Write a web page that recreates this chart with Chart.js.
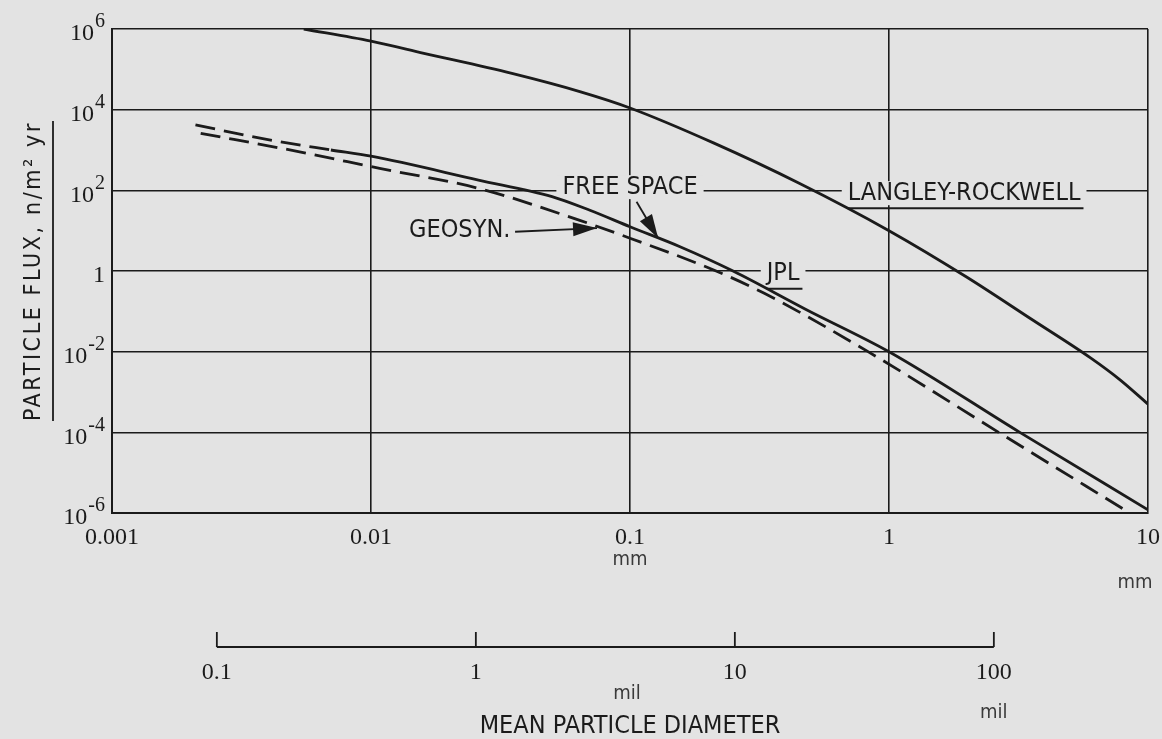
<!DOCTYPE html>
<html>
<head>
<meta charset="utf-8">
<title>Particle flux vs mean particle diameter</title>
<script src="https://cdn.jsdelivr.net/npm/chart.js@4.4.1/dist/chart.umd.min.js"></script>
<style>
  html, body { margin: 0; padding: 0; background: #e3e3e3; }
</style>
</head>
<body>
<canvas id="chart-flux" width="1162" height="739"></canvas>
<script>
// mean particle diameter (mm) -> particle flux (n / m^2 yr)
const lrDiameter = [0.0055, 0.01, 0.016, 0.035, 0.064, 0.1, 0.21, 0.45, 1, 2, 3.6, 6, 7.8, 10];
const lrFlux = [1e6, 5e5, 2.5e5, 7.9e4, 2.8e4, 1.1e4, 1.5e3, 150, 10, 0.7, 0.06, 7e-3, 2e-3, 5e-4];

const freeSpaceDiameter = [0.0021, 0.004, 0.007, 0.01, 0.026, 0.05, 0.07, 0.1, 0.156, 0.25, 0.48, 1, 3.2, 10];
const freeSpaceFlux = [4.2e3, 1.8e3, 1.0e3, 700, 180, 70, 32, 12.5, 4, 1, 0.11, 0.01, 1e-4, 1.2e-6];
const FREE_SPACE_DASHED_UNTIL = 0.007;

const geosynDiameter = [0.0022, 0.0053, 0.0108, 0.026, 0.064, 0.1, 0.215, 0.33, 0.83, 2.65, 8.5];
const geosynFlux = [2.6e3, 900, 350, 112, 18, 6.5, 1.0, 0.28, 1e-2, 1e-4, 1e-6];

const xTicks = [0.001, 0.01, 0.1, 1, 10];
const xTickLabels = ["0.001", "0.01", "0.1", "1", "10"];
const yTicks = [1e-6, 1e-4, 1e-2, 1, 1e2, 1e4, 1e6];
const yTickExponents = ["-6", "-4", "-2", "", "2", "4", "6"];
const milTicks = [0.1, 1, 10, 100];
const milTickLabels = ["0.1", "1", "10", "100"];
const MM_PER_MIL = 0.0254;

const Y_TITLE = "PARTICLE FLUX, n/m² yr";
const INK = "#1b1b1b";
const PAPER = "#e3e3e3";
const SERIF = '"Liberation Serif", "DejaVu Serif", serif';
const NARROW = '"DejaVu Sans Condensed", "Liberation Sans Narrow", "DejaVu Sans", sans-serif';
const DASH = [20, 9];

const notes = [
  { text: "FREE SPACE", x: 0.1, y: 120 },
  { text: "GEOSYN.", x: 0.022, y: 10 },
  { text: "JPL", x: 0.39, y: 0.85, underline: true },
  { text: "LANGLEY-ROCKWELL", x: 1.95, y: 85, underline: true },
];
const arrows = [
  { from: [0.106, 52], to: [0.1285, 6.5] },
  { from: [0.036, 9.4], to: [0.0746, 11.6] },
];
// unit names: under the last tick (value) or centred on the scale (value null)
const units = [
  { scale: "x", value: 10, text: "mm", dx: -13, dy: 70 },
  { scale: "mil", value: 100, text: "mil", dx: 0, dy: 66 },
  { scale: "mil", value: null, text: "mil", dx: -3, dy: 47 },
];

const toPoints = (xs, ys) => xs.map((d, i) => ({ x: d, y: ys[i] }));

const paperPlugin = {
  id: "paper",
  beforeDraw(chart) {
    const ctx = chart.ctx;
    ctx.save();
    ctx.fillStyle = PAPER;
    ctx.fillRect(0, 0, chart.width, chart.height);
    ctx.restore();
  },
};

const notesPlugin = {
  id: "notes",
  beforeDatasetsDraw(chart) {
    const { ctx, scales: { x, y } } = chart;
    ctx.save();
    ctx.font = "25px " + NARROW;
    ctx.textAlign = "center";
    ctx.textBaseline = "middle";
    notes.forEach((n) => {
      const px = x.getPixelForValue(n.x);
      const py = y.getPixelForValue(n.y);
      const w = ctx.measureText(n.text).width;
      ctx.fillStyle = PAPER;
      ctx.fillRect(px - w / 2 - 6, py - 12, w + 12, 24);
      ctx.fillStyle = INK;
      ctx.fillText(n.text, px, py);
      if (n.underline) {
        ctx.strokeStyle = INK;
        ctx.lineWidth = 2;
        ctx.beginPath();
        ctx.moveTo(px - w / 2, py + 15);
        ctx.lineTo(px + w / 2 + 3, py + 15);
        ctx.stroke();
      }
    });
    ctx.restore();
  },
  afterDatasetsDraw(chart) {
    const { ctx, scales: { x, y } } = chart;
    ctx.save();
    ctx.strokeStyle = INK;
    ctx.fillStyle = INK;
    ctx.lineWidth = 1.8;
    arrows.forEach((a) => {
      const x0 = x.getPixelForValue(a.from[0]), y0 = y.getPixelForValue(a.from[1]);
      const x1 = x.getPixelForValue(a.to[0]), y1 = y.getPixelForValue(a.to[1]);
      const ang = Math.atan2(y1 - y0, x1 - x0);
      const c = Math.cos(ang), s = Math.sin(ang);
      ctx.beginPath();
      ctx.moveTo(x0, y0);
      ctx.lineTo(x1, y1);
      ctx.stroke();
      ctx.beginPath();
      ctx.moveTo(x1, y1);
      ctx.lineTo(x1 - 24 * c + 7 * s, y1 - 24 * s - 7 * c);
      ctx.lineTo(x1 - 24 * c - 7 * s, y1 - 24 * s + 7 * c);
      ctx.closePath();
      ctx.fill();
    });
    ctx.restore();
  },
};

const extrasPlugin = {
  id: "extras",
  afterDraw(chart) {
    const ctx = chart.ctx;
    const mil = chart.scales.mil;
    const ys = chart.scales.y;
    ctx.save();
    ctx.strokeStyle = INK;
    ctx.fillStyle = INK;
    ctx.lineWidth = 1.8;

    // y tick labels: 10 with a full-size raised exponent
    yTicks.forEach((v, i) => {
      const py = ys.getPixelForValue(v);
      const exp = yTickExponents[i];
      const base = exp ? "10" : "1";
      ctx.font = "24px " + SERIF;
      const wb = ctx.measureText(base).width;
      ctx.font = "20px " + SERIF;
      const we = exp ? ctx.measureText(exp).width + 1 : 0;
      const x0 = ys.right - 7 - wb - we;
      ctx.textAlign = "left";
      ctx.textBaseline = "middle";
      ctx.font = "24px " + SERIF;
      ctx.fillText(base, x0, py + 5);
      if (exp) {
        ctx.font = "20px " + SERIF;
        ctx.fillText(exp, x0 + wb + 1, py - 7);
      }
    });

    // rotated y title, spaced out, with its underline
    const mid = (ys.top + ys.bottom) / 2;
    ctx.font = "23px " + NARROW;
    if ("letterSpacing" in ctx) ctx.letterSpacing = "2.6px";
    const w = ctx.measureText(Y_TITLE).width;
    ctx.save();
    ctx.translate(ys.left + 40, mid);
    ctx.rotate(-Math.PI / 2);
    ctx.textAlign = "center";
    ctx.textBaseline = "alphabetic";
    ctx.fillText(Y_TITLE, 0, 0);
    ctx.restore();
    if ("letterSpacing" in ctx) ctx.letterSpacing = "0px";
    ctx.beginPath();
    ctx.moveTo(ys.left + 53, mid - w / 2);
    ctx.lineTo(ys.left + 53, mid + w / 2);
    ctx.stroke();

    // mil scale: a bare line with upward ticks, only across its labelled span
    const first = mil.getPixelForValue(milTicks[0]);
    const last = mil.getPixelForValue(milTicks[milTicks.length - 1]);
    ctx.beginPath();
    ctx.moveTo(first, mil.top);
    ctx.lineTo(last, mil.top);
    milTicks.forEach((v) => {
      const px = mil.getPixelForValue(v);
      ctx.moveTo(px, mil.top);
      ctx.lineTo(px, mil.top - 15);
    });
    ctx.stroke();

    // unit names
    ctx.fillStyle = "#3a3a3a";
    ctx.font = "20px " + NARROW;
    ctx.textAlign = "center";
    ctx.textBaseline = "middle";
    units.forEach((u) => {
      const s = chart.scales[u.scale];
      const px = u.value === null ? (s.left + s.right) / 2 : s.getPixelForValue(u.value);
      ctx.fillText(u.text, px + u.dx, s.top + u.dy);
    });
    ctx.restore();
  },
};

const ctx = document.getElementById("chart-flux").getContext("2d");
new Chart(ctx, {
  type: "line",
  data: {
    datasets: [
      {
        label: "LANGLEY-ROCKWELL",
        data: toPoints(lrDiameter, lrFlux),
      },
      {
        label: "JPL FREE SPACE",
        data: toPoints(freeSpaceDiameter, freeSpaceFlux),
        segment: {
          borderDash: (c) => (c.p1.parsed.x <= FREE_SPACE_DASHED_UNTIL ? DASH : undefined),
        },
      },
      {
        label: "JPL GEOSYN.",
        data: toPoints(geosynDiameter, geosynFlux),
        borderDash: DASH,
      },
    ],
  },
  options: {
    responsive: false,
    animation: false,
    parsing: false,
    layout: { padding: { top: 29, right: 14, bottom: 0, left: 0 } },
    plugins: { legend: { display: false }, tooltip: { enabled: false } },
    elements: {
      point: { radius: 0 },
      line: { borderColor: INK, borderWidth: 2.8, cubicInterpolationMode: "monotone", fill: false },
    },
    scales: {
      x: {
        type: "logarithmic",
        position: "bottom",
        weight: 0,
        min: xTicks[0],
        max: xTicks[xTicks.length - 1],
        afterBuildTicks: (s) => { s.ticks = xTicks.map((v) => ({ value: v })); },
        afterFit: (s) => { s.height = 134; s.paddingLeft = 0; s.paddingRight = 0; },
        grid: { color: INK, lineWidth: 1.6, drawTicks: false },
        border: { color: INK, width: 2 },
        ticks: {
          color: INK,
          font: { family: SERIF, size: 24, lineHeight: 0.95 },
          padding: 13,
          maxRotation: 0,
          autoSkip: false,
          callback: (v, i) => xTickLabels[i],
        },
        title: {
          display: true,
          text: "mm",
          color: "#3a3a3a",
          font: { family: NARROW, size: 20, lineHeight: 1.2 },
          padding: { top: 0, bottom: 75 },
        },
      },
      mil: {
        type: "logarithmic",
        position: "bottom",
        weight: 1,
        min: xTicks[0] / MM_PER_MIL,
        max: xTicks[xTicks.length - 1] / MM_PER_MIL,
        afterBuildTicks: (s) => { s.ticks = milTicks.map((v) => ({ value: v })); },
        afterFit: (s) => { s.height = 92; s.paddingLeft = 0; s.paddingRight = 0; },
        grid: { display: false, drawTicks: false },
        border: { display: false },
        ticks: {
          color: INK,
          font: { family: SERIF, size: 24, lineHeight: 0.95 },
          padding: 14,
          maxRotation: 0,
          autoSkip: false,
          callback: (v, i) => milTickLabels[i],
        },
        title: {
          display: true,
          text: "MEAN PARTICLE DIAMETER",
          color: INK,
          font: { family: NARROW, size: 25, lineHeight: 1 },
          padding: { top: 0, bottom: 0 },
        },
      },
      y: {
        type: "logarithmic",
        position: "left",
        min: yTicks[0],
        max: yTicks[yTicks.length - 1],
        afterBuildTicks: (s) => { s.ticks = yTicks.map((v) => ({ value: v })); },
        afterFit: (s) => { s.width = 112; s.paddingTop = 0; s.paddingBottom = 0; },
        grid: { color: INK, lineWidth: 1.6, drawTicks: false },
        border: { color: INK, width: 2 },
        ticks: { display: false, autoSkip: false },
        title: { display: false, text: Y_TITLE },
      },
    },
  },
  plugins: [paperPlugin, notesPlugin, extrasPlugin],
});
</script>
</body>
</html>
